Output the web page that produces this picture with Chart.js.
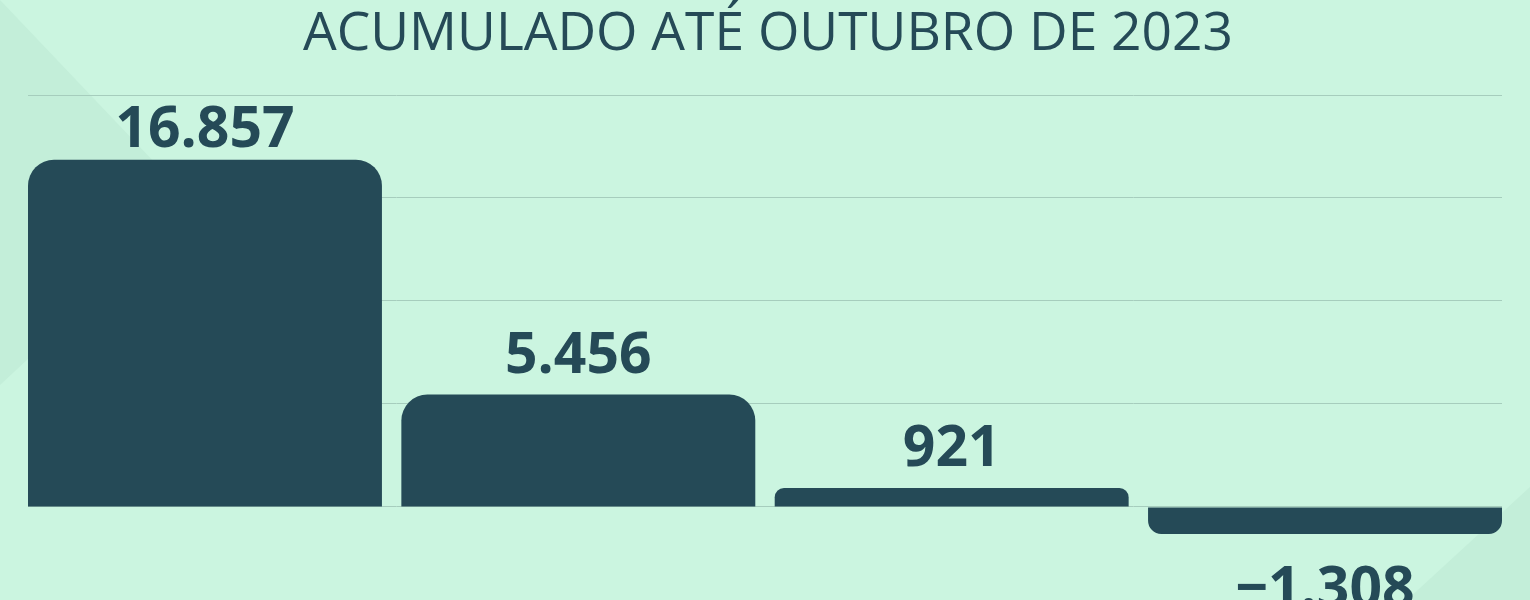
<!DOCTYPE html>
<html>
<head>
<meta charset="utf-8">
<script src="https://cdn.jsdelivr.net/npm/chart.js@4"></script>
<style>
  html, body { margin: 0; padding: 0; background: #cbf5e0; }
  #wrap { width: 1530px; height: 600px; }
</style>
</head>
<body>
<div id="wrap"><canvas id="chart"></canvas></div>
<script>
const title = "ACUMULADO ATÉ OUTUBRO DE 2023";
const categories = ["A", "B", "C", "D"];
const values = [16857, 5456, 921, -1308];
const gridTicks = [0, 5000, 10000, 15000, 20000];

const ink = "#254a57";

function fmt(v) {
  return v.toLocaleString("pt-BR").replace("-", "\u2212");
}

// soft background with diagonal shapes
const backdrop = {
  id: "backdrop",
  beforeDraw(chart) {
    const ctx = chart.ctx;
    const w = chart.width, h = chart.height;
    ctx.save();
    ctx.fillStyle = "#cbf5e0";
    ctx.fillRect(0, 0, w, h);
    ctx.fillStyle = "#c3eed9";
    ctx.beginPath();
    ctx.moveTo(0, 0);
    ctx.lineTo(194, 204);
    ctx.lineTo(0, 385);
    ctx.closePath();
    ctx.fill();
    ctx.beginPath();
    ctx.moveTo(w, 487);
    ctx.lineTo(1407, h);
    ctx.lineTo(w, h);
    ctx.closePath();
    ctx.fill();
    ctx.restore();
  }
};

// condensed title
const titleDraw = {
  id: "titleDraw",
  afterDraw(chart) {
    const ctx = chart.ctx;
    ctx.save();
    ctx.font = "400 53px 'Open Sans'";
    ctx.fillStyle = ink;
    ctx.textBaseline = "alphabetic";
    const tw = ctx.measureText(title).width;
    const sx = 930 / tw;
    ctx.translate(768, 50);
    ctx.scale(sx, 1);
    ctx.textAlign = "center";
    ctx.fillText(title, 0, 0);
    ctx.restore();
  }
};

// value labels
const valueLabels = {
  id: "valueLabels",
  afterDatasetsDraw(chart) {
    const ctx = chart.ctx;
    const meta = chart.getDatasetMeta(0);
    ctx.save();
    ctx.font = "700 57px 'Open Sans'";
    ctx.fillStyle = ink;
    ctx.textAlign = "center";
    ctx.textBaseline = "alphabetic";
    meta.data.forEach((bar, i) => {
      const v = values[i];
      const y = v >= 0 ? Math.max(bar.y - 22, 147) : bar.y + 73;
      ctx.fillText(fmt(v), bar.x, y);
    });
    ctx.restore();
  }
};

new Chart(document.getElementById("chart"), {
  type: "bar",
  data: {
    datasets: [{
      data: values.map((v, i) => ({ x: i, y: v })),
      backgroundColor: ink,
      borderRadius: 26,
      borderSkipped: "start",
      barPercentage: 0.948,
      categoryPercentage: 1
    }]
  },
  options: {
    responsive: true,
    maintainAspectRatio: false,
    animation: false,
    layout: { padding: { top: 95, left: 28, right: 28, bottom: 0 } },
    plugins: {
      legend: { display: false },
      tooltip: { enabled: false },
      title: { display: false }
    },
    scales: {
      x: {
        type: "linear",
        display: false,
        offset: false,
        min: -0.474,
        max: categories.length - 1 + 0.474,
        afterBuildTicks(axis) {
          axis.ticks = categories.map((c, i) => ({ value: i }));
        },
        grid: { display: false }
      },
      y: {
        min: -4515,
        max: 20000,
        afterBuildTicks(axis) {
          axis.ticks = gridTicks.map(v => ({ value: v }));
        },
        ticks: { display: false },
        border: { display: false },
        grid: {
          color: "#a6cdbd",
          lineWidth: 1,
          drawTicks: false
        }
      }
    }
  },
  plugins: [backdrop, valueLabels, titleDraw]
});
</script>
</body>
</html>
